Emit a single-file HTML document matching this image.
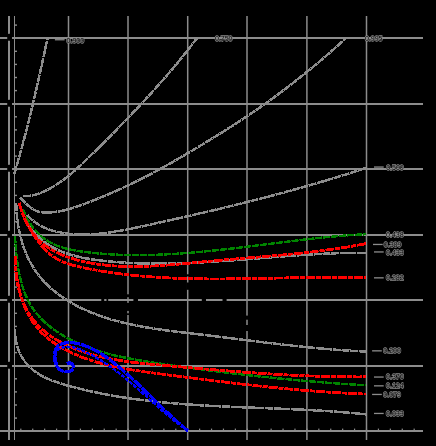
<!DOCTYPE html>
<html><head><meta charset="utf-8"><style>
html,body{margin:0;padding:0;background:#000;width:436px;height:446px;overflow:hidden}
svg{display:block}
.lb{font-family:"Liberation Sans",sans-serif;font-size:7.6px;fill:#000;stroke:#8c8c8c;stroke-width:1.3px;paint-order:stroke}
</style></head><body>
<svg width="436" height="446" viewBox="0 0 436 446">
<rect width="436" height="446" fill="#000"/>
<rect x="0" y="37" width="423" height="2" fill="#8c8c8c"/>
<rect x="0" y="103" width="423" height="2" fill="#8c8c8c"/>
<rect x="0" y="168" width="423" height="2" fill="#8c8c8c"/>
<rect x="0" y="234" width="423" height="2" fill="#8c8c8c"/>
<rect x="0" y="299" width="423" height="2" fill="#8c8c8c"/>
<rect x="0" y="365" width="423" height="2" fill="#8c8c8c"/>
<rect x="0" y="430" width="423" height="2" fill="#8c8c8c"/>
<line x1="68.50" y1="16" x2="68.50" y2="440" stroke="#8c8c8c" stroke-width="1.5"/>
<line x1="128.00" y1="16" x2="128.00" y2="440" stroke="#8c8c8c" stroke-width="1.5"/>
<line x1="187.70" y1="16" x2="187.70" y2="440" stroke="#8c8c8c" stroke-width="1.5"/>
<line x1="247.00" y1="16" x2="247.00" y2="440" stroke="#8c8c8c" stroke-width="1.5"/>
<line x1="306.90" y1="16" x2="306.90" y2="440" stroke="#8c8c8c" stroke-width="1.5"/>
<line x1="366.50" y1="16" x2="366.50" y2="440" stroke="#8c8c8c" stroke-width="1.5"/>
<rect x="8" y="16" width="2" height="424" fill="#8c8c8c"/>
<rect x="14" y="16" width="1" height="424" fill="#8c8c8c"/>
<rect x="15" y="430.50" width="2" height="1.4" fill="#8c8c8c"/>
<rect x="15" y="417.40" width="2" height="1.4" fill="#8c8c8c"/>
<rect x="15" y="404.30" width="2" height="1.4" fill="#8c8c8c"/>
<rect x="15" y="391.20" width="2" height="1.4" fill="#8c8c8c"/>
<rect x="15" y="378.10" width="2" height="1.4" fill="#8c8c8c"/>
<rect x="15" y="365.00" width="2" height="1.4" fill="#8c8c8c"/>
<rect x="15" y="351.90" width="2" height="1.4" fill="#8c8c8c"/>
<rect x="15" y="338.80" width="2" height="1.4" fill="#8c8c8c"/>
<rect x="15" y="325.70" width="2" height="1.4" fill="#8c8c8c"/>
<rect x="15" y="312.60" width="2" height="1.4" fill="#8c8c8c"/>
<rect x="15" y="299.50" width="2" height="1.4" fill="#8c8c8c"/>
<rect x="15" y="286.40" width="2" height="1.4" fill="#8c8c8c"/>
<rect x="15" y="273.30" width="2" height="1.4" fill="#8c8c8c"/>
<rect x="15" y="260.20" width="2" height="1.4" fill="#8c8c8c"/>
<rect x="15" y="247.10" width="2" height="1.4" fill="#8c8c8c"/>
<rect x="15" y="234.00" width="2" height="1.4" fill="#8c8c8c"/>
<rect x="15" y="220.90" width="2" height="1.4" fill="#8c8c8c"/>
<rect x="15" y="207.80" width="2" height="1.4" fill="#8c8c8c"/>
<rect x="15" y="194.70" width="2" height="1.4" fill="#8c8c8c"/>
<rect x="15" y="181.60" width="2" height="1.4" fill="#8c8c8c"/>
<rect x="15" y="168.50" width="2" height="1.4" fill="#8c8c8c"/>
<rect x="15" y="155.40" width="2" height="1.4" fill="#8c8c8c"/>
<rect x="15" y="142.30" width="2" height="1.4" fill="#8c8c8c"/>
<rect x="15" y="129.20" width="2" height="1.4" fill="#8c8c8c"/>
<rect x="15" y="116.10" width="2" height="1.4" fill="#8c8c8c"/>
<rect x="15" y="103.00" width="2" height="1.4" fill="#8c8c8c"/>
<rect x="15" y="89.90" width="2" height="1.4" fill="#8c8c8c"/>
<rect x="15" y="76.80" width="2" height="1.4" fill="#8c8c8c"/>
<rect x="15" y="63.70" width="2" height="1.4" fill="#8c8c8c"/>
<rect x="15" y="50.60" width="2" height="1.4" fill="#8c8c8c"/>
<rect x="15" y="37.50" width="2" height="1.4" fill="#8c8c8c"/>
<rect x="15" y="24.40" width="2" height="1.4" fill="#8c8c8c"/>
<rect x="8.30" y="428.6" width="1.2" height="1.4" fill="#8c8c8c"/>
<rect x="20.22" y="428.6" width="1.2" height="1.4" fill="#8c8c8c"/>
<rect x="32.14" y="428.6" width="1.2" height="1.4" fill="#8c8c8c"/>
<rect x="44.06" y="428.6" width="1.2" height="1.4" fill="#8c8c8c"/>
<rect x="55.98" y="428.6" width="1.2" height="1.4" fill="#8c8c8c"/>
<rect x="67.90" y="428.6" width="1.2" height="1.4" fill="#8c8c8c"/>
<rect x="79.82" y="428.6" width="1.2" height="1.4" fill="#8c8c8c"/>
<rect x="91.74" y="428.6" width="1.2" height="1.4" fill="#8c8c8c"/>
<rect x="103.66" y="428.6" width="1.2" height="1.4" fill="#8c8c8c"/>
<rect x="115.58" y="428.6" width="1.2" height="1.4" fill="#8c8c8c"/>
<rect x="127.50" y="428.6" width="1.2" height="1.4" fill="#8c8c8c"/>
<rect x="139.42" y="428.6" width="1.2" height="1.4" fill="#8c8c8c"/>
<rect x="151.34" y="428.6" width="1.2" height="1.4" fill="#8c8c8c"/>
<rect x="163.26" y="428.6" width="1.2" height="1.4" fill="#8c8c8c"/>
<rect x="175.18" y="428.6" width="1.2" height="1.4" fill="#8c8c8c"/>
<rect x="187.10" y="428.6" width="1.2" height="1.4" fill="#8c8c8c"/>
<rect x="199.02" y="428.6" width="1.2" height="1.4" fill="#8c8c8c"/>
<rect x="210.94" y="428.6" width="1.2" height="1.4" fill="#8c8c8c"/>
<rect x="222.86" y="428.6" width="1.2" height="1.4" fill="#8c8c8c"/>
<rect x="234.78" y="428.6" width="1.2" height="1.4" fill="#8c8c8c"/>
<rect x="246.70" y="428.6" width="1.2" height="1.4" fill="#8c8c8c"/>
<rect x="258.62" y="428.6" width="1.2" height="1.4" fill="#8c8c8c"/>
<rect x="270.54" y="428.6" width="1.2" height="1.4" fill="#8c8c8c"/>
<rect x="282.46" y="428.6" width="1.2" height="1.4" fill="#8c8c8c"/>
<rect x="294.38" y="428.6" width="1.2" height="1.4" fill="#8c8c8c"/>
<rect x="306.30" y="428.6" width="1.2" height="1.4" fill="#8c8c8c"/>
<rect x="318.22" y="428.6" width="1.2" height="1.4" fill="#8c8c8c"/>
<rect x="330.14" y="428.6" width="1.2" height="1.4" fill="#8c8c8c"/>
<rect x="342.06" y="428.6" width="1.2" height="1.4" fill="#8c8c8c"/>
<rect x="353.98" y="428.6" width="1.2" height="1.4" fill="#8c8c8c"/>
<rect x="365.90" y="428.6" width="1.2" height="1.4" fill="#8c8c8c"/>
<rect x="377.82" y="428.6" width="1.2" height="1.4" fill="#8c8c8c"/>
<rect x="389.74" y="428.6" width="1.2" height="1.4" fill="#8c8c8c"/>
<rect x="401.66" y="428.6" width="1.2" height="1.4" fill="#8c8c8c"/>
<rect x="413.58" y="428.6" width="1.2" height="1.4" fill="#8c8c8c"/>
<rect x="7.2" y="33.7" width="4.8" height="7" rx="1.5" fill="#000"/>
<rect x="7.2" y="99.7" width="4.8" height="7" rx="1.5" fill="#000"/>
<rect x="7.2" y="164.7" width="4.8" height="7" rx="1.5" fill="#000"/>
<rect x="7.2" y="230.7" width="4.8" height="7" rx="1.5" fill="#000"/>
<rect x="7.2" y="295.7" width="4.8" height="7" rx="1.5" fill="#000"/>
<rect x="7.2" y="361.7" width="4.8" height="7" rx="1.5" fill="#000"/>
<rect x="186.5" y="274.3" width="3.0" height="2.1" fill="#000"/>
<rect x="186.5" y="282.5" width="3.0" height="7.3" fill="#000"/>
<rect x="201.8" y="298.5" width="4.2" height="3.0" fill="#000"/>
<rect x="222.5" y="298.5" width="4.1" height="3.0" fill="#000"/>
<rect x="245.5" y="315.6" width="3.0" height="4.1" fill="#000"/>
<rect x="245.5" y="325.0" width="3.0" height="6.0" fill="#000"/>
<rect x="126.5" y="294.3" width="3.0" height="2.9" fill="#000"/>
<rect x="126.5" y="302.9" width="3.0" height="8.0" fill="#000"/>
<rect x="126.5" y="313.3" width="3.0" height="1.7" fill="#000"/>
<rect x="101.3" y="298.5" width="2.9" height="3.0" fill="#000"/>
<rect x="106.5" y="298.5" width="1.7" height="3.0" fill="#000"/>
<rect x="133.4" y="298.5" width="4.6" height="3.0" fill="#000"/>
<path d="M14.26 173.99 L14.85 172.02 L15.44 170.06 L16.02 168.09 L16.59 166.12 L17.16 164.15 L17.73 162.18 L18.29 160.21 L18.85 158.24 L19.41 156.27 L19.96 154.29 L20.51 152.31 L21.06 150.34 L21.60 148.36 L22.13 146.38 L22.67 144.40 L23.20 142.42 L23.73 140.44 L24.25 138.46 L24.77 136.47 L25.29 134.49 L25.80 132.50 L26.32 130.52 L26.82 128.53 L27.33 126.54 L27.83 124.55 L28.33 122.56 L28.83 120.57 L29.32 118.58 L29.81 116.59 L30.30 114.60 L30.79 112.61 L31.27 110.61 L31.75 108.62 L32.23 106.62 L32.71 104.63 L33.18 102.63 L33.65 100.64 L34.12 98.64 L34.59 96.65 L35.06 94.65 L35.52 92.65 L35.98 90.65 L36.44 88.65 L36.90 86.65 L37.35 84.65 L37.80 82.66 L38.26 80.66 L38.71 78.66 L39.15 76.65 L39.60 74.65 L40.05 72.65 L40.49 70.65 L40.93 68.65 L41.38 66.65 L41.82 64.65 L42.25 62.65 L42.69 60.65 L43.13 58.64 L43.56 56.64 L44.00 54.64 L44.43 52.64 L44.86 50.64 L45.30 48.63 L45.73 46.63 L46.16 44.63 L46.59 42.63 L47.02 40.63 L47.44 38.63" fill="none" stroke="#8c8c8c" stroke-width="2.50" stroke-dasharray="8 0.6" stroke-linejoin="round" shape-rendering="crispEdges"/>
<path d="M23.30 195.86 L25.41 195.97 L27.49 195.94 L29.53 195.79 L31.53 195.52 L33.50 195.14 L35.44 194.67 L37.35 194.10 L39.23 193.46 L41.08 192.75 L42.92 191.98 L44.73 191.16 L46.51 190.29 L48.28 189.39 L50.03 188.45 L51.76 187.48 L53.48 186.47 L55.17 185.43 L56.85 184.36 L58.51 183.26 L60.16 182.13 L61.79 180.97 L63.41 179.79 L65.02 178.58 L66.61 177.35 L68.19 176.09 L69.75 174.81 L71.31 173.52 L72.86 172.20 L74.39 170.87 L75.92 169.52 L77.43 168.16 L78.94 166.78 L80.44 165.40 L81.93 164.00 L83.42 162.59 L84.90 161.18 L86.37 159.75 L87.84 158.33 L89.31 156.89 L90.77 155.46 L92.23 154.02 L93.69 152.59 L95.14 151.15 L96.60 149.71 L98.05 148.28 L99.49 146.84 L100.94 145.40 L102.38 143.97 L103.82 142.53 L105.26 141.09 L106.70 139.66 L108.13 138.22 L109.56 136.78 L110.99 135.34 L112.42 133.90 L113.85 132.46 L115.27 131.02 L116.69 129.57 L118.10 128.13 L119.52 126.69 L120.93 125.24 L122.34 123.79 L123.75 122.34 L125.15 120.89 L126.55 119.44 L127.95 117.99 L129.35 116.53 L130.74 115.08 L132.14 113.62 L133.52 112.16 L134.91 110.70 L136.29 109.23 L137.68 107.77 L139.05 106.30 L140.43 104.83 L141.80 103.36 L143.17 101.88 L144.54 100.41 L145.90 98.93 L147.26 97.44 L148.62 95.96 L149.98 94.47 L151.33 92.98 L152.68 91.49 L154.03 89.99 L155.37 88.49 L156.72 86.99 L158.06 85.48 L159.39 83.97 L160.72 82.46 L162.05 80.94 L163.38 79.43 L164.70 77.90 L166.02 76.38 L167.34 74.85 L168.66 73.31 L169.97 71.77 L171.28 70.23 L172.58 68.69 L173.88 67.14 L175.18 65.58 L176.48 64.03 L177.77 62.46 L179.06 60.90 L180.35 59.33 L181.63 57.75 L182.91 56.17 L184.19 54.58 L185.46 52.99 L186.73 51.40 L188.00 49.80 L189.26 48.20 L190.52 46.59 L191.78 44.97 L193.03 43.35 L194.28 41.73 L195.53 40.10 L196.78 38.46" fill="none" stroke="#8c8c8c" stroke-width="2.50" stroke-dasharray="8 0.6" stroke-linejoin="round" shape-rendering="crispEdges"/>
<path d="M19.85 197.75 L21.35 198.98 L22.83 200.33 L24.30 201.74 L25.77 203.19 L27.25 204.63 L28.77 206.04 L30.32 207.37 L31.93 208.58 L33.60 209.65 L35.35 210.53 L37.18 211.22 L39.07 211.73 L41.02 212.09 L43.00 212.31 L45.00 212.43 L47.01 212.46 L49.02 212.42 L51.02 212.33 L53.02 212.17 L55.00 211.96 L56.98 211.70 L58.96 211.38 L60.93 211.02 L62.89 210.62 L64.85 210.17 L66.80 209.68 L68.74 209.16 L70.68 208.61 L72.61 208.02 L74.54 207.41 L76.46 206.77 L78.38 206.11 L80.30 205.43 L82.20 204.74 L84.11 204.03 L86.00 203.31 L87.90 202.58 L89.79 201.85 L91.67 201.11 L93.55 200.37 L95.43 199.62 L97.30 198.87 L99.17 198.11 L101.03 197.34 L102.89 196.57 L104.74 195.79 L106.60 195.01 L108.44 194.22 L110.29 193.43 L112.13 192.63 L113.96 191.82 L115.80 191.01 L117.63 190.19 L119.45 189.37 L121.28 188.54 L123.09 187.70 L124.91 186.86 L126.72 186.01 L128.53 185.16 L130.34 184.30 L132.14 183.43 L133.95 182.56 L135.74 181.68 L137.54 180.80 L139.33 179.90 L141.12 179.01 L142.91 178.10 L144.69 177.19 L146.48 176.27 L148.26 175.35 L150.04 174.42 L151.81 173.48 L153.58 172.54 L155.36 171.59 L157.12 170.64 L158.89 169.68 L160.66 168.72 L162.42 167.75 L164.18 166.77 L165.94 165.79 L167.69 164.81 L169.45 163.82 L171.20 162.83 L172.95 161.83 L174.70 160.83 L176.44 159.83 L178.19 158.82 L179.93 157.81 L181.67 156.80 L183.41 155.78 L185.15 154.76 L186.88 153.74 L188.61 152.71 L190.35 151.68 L192.08 150.65 L193.80 149.62 L195.53 148.58 L197.26 147.55 L198.98 146.51 L200.70 145.47 L202.42 144.43 L204.14 143.38 L205.86 142.34 L207.58 141.29 L209.29 140.24 L211.01 139.20 L212.72 138.15 L214.43 137.09 L216.14 136.04 L217.84 134.98 L219.55 133.92 L221.25 132.86 L222.95 131.80 L224.65 130.73 L226.35 129.66 L228.04 128.59 L229.73 127.51 L231.42 126.44 L233.11 125.35 L234.80 124.27 L236.48 123.18 L238.16 122.09 L239.84 120.99 L241.52 119.89 L243.19 118.79 L244.86 117.68 L246.53 116.57 L248.20 115.45 L249.86 114.33 L251.52 113.20 L253.18 112.07 L254.84 110.93 L256.49 109.79 L258.14 108.65 L259.79 107.50 L261.43 106.35 L263.08 105.19 L264.72 104.03 L266.35 102.86 L267.99 101.70 L269.62 100.52 L271.24 99.34 L272.87 98.16 L274.49 96.97 L276.11 95.78 L277.73 94.59 L279.34 93.39 L280.95 92.19 L282.56 90.98 L284.17 89.77 L285.77 88.55 L287.37 87.33 L288.97 86.11 L290.56 84.88 L292.15 83.65 L293.74 82.42 L295.32 81.18 L296.91 79.94 L298.49 78.69 L300.06 77.44 L301.63 76.19 L303.20 74.93 L304.77 73.67 L306.33 72.40 L307.90 71.13 L309.45 69.86 L311.01 68.58 L312.56 67.30 L314.11 66.02 L315.65 64.73 L317.19 63.44 L318.73 62.15 L320.27 60.85 L321.80 59.55 L323.33 58.24 L324.86 56.94 L326.38 55.62 L327.90 54.31 L329.42 52.99 L330.93 51.67 L332.44 50.34 L333.95 49.01 L335.45 47.68 L336.95 46.35 L338.45 45.01 L339.94 43.67 L341.43 42.32 L342.92 40.97 L344.40 39.62 L345.88 38.27" fill="none" stroke="#8c8c8c" stroke-width="2.50" stroke-dasharray="8 0.6" stroke-linejoin="round" shape-rendering="crispEdges"/>
<path d="M27.29 214.83 L28.70 216.48 L30.15 218.03 L31.66 219.48 L33.22 220.83 L34.82 222.10 L36.47 223.27 L38.15 224.37 L39.87 225.39 L41.63 226.33 L43.41 227.19 L45.23 228.00 L47.07 228.73 L48.93 229.41 L50.81 230.03 L52.71 230.60 L54.62 231.11 L56.54 231.59 L58.47 232.02 L60.40 232.41 L62.34 232.77 L64.28 233.09 L66.23 233.38 L68.18 233.63 L70.14 233.84 L72.10 234.03 L74.06 234.18 L76.03 234.30 L78.00 234.39 L79.97 234.46 L81.95 234.49 L83.93 234.49 L85.91 234.47 L87.90 234.43 L89.89 234.35 L91.88 234.26 L93.87 234.14 L95.87 233.99 L97.86 233.83 L99.86 233.64 L101.86 233.44 L103.87 233.21 L105.87 232.97 L107.88 232.71 L109.88 232.43 L111.89 232.14 L113.90 231.83 L115.91 231.50 L117.92 231.17 L119.93 230.82 L121.94 230.46 L123.95 230.09 L125.96 229.70 L127.97 229.31 L129.98 228.91 L131.99 228.51 L133.99 228.09 L136.00 227.67 L138.01 227.25 L140.01 226.82 L142.02 226.38 L144.02 225.95 L146.02 225.51 L148.02 225.07 L150.02 224.64 L152.02 224.20 L154.01 223.76 L156.01 223.32 L158.00 222.88 L159.99 222.44 L161.97 222.00 L163.96 221.56 L165.95 221.12 L167.93 220.68 L169.91 220.23 L171.89 219.79 L173.87 219.35 L175.85 218.90 L177.82 218.46 L179.80 218.01 L181.77 217.57 L183.74 217.12 L185.71 216.67 L187.68 216.22 L189.65 215.77 L191.61 215.32 L193.58 214.87 L195.54 214.42 L197.51 213.97 L199.47 213.51 L201.43 213.06 L203.39 212.60 L205.35 212.14 L207.30 211.68 L209.26 211.22 L211.21 210.76 L213.17 210.30 L215.12 209.84 L217.07 209.37 L219.02 208.91 L220.97 208.44 L222.92 207.97 L224.87 207.51 L226.82 207.03 L228.77 206.56 L230.71 206.09 L232.66 205.61 L234.60 205.14 L236.54 204.66 L238.49 204.18 L240.43 203.70 L242.37 203.22 L244.31 202.73 L246.25 202.25 L248.19 201.76 L250.13 201.27 L252.07 200.78 L254.01 200.29 L255.95 199.79 L257.88 199.30 L259.82 198.80 L261.76 198.30 L263.69 197.80 L265.63 197.29 L267.56 196.79 L269.50 196.28 L271.43 195.77 L273.37 195.26 L275.30 194.75 L277.23 194.23 L279.17 193.72 L281.10 193.20 L283.03 192.67 L284.97 192.15 L286.90 191.62 L288.83 191.10 L290.77 190.57 L292.70 190.03 L294.63 189.50 L296.56 188.96 L298.50 188.42 L300.43 187.88 L302.36 187.33 L304.29 186.79 L306.23 186.24 L308.16 185.68 L310.09 185.13 L312.03 184.57 L313.96 184.01 L315.90 183.45 L317.83 182.89 L319.76 182.32 L321.70 181.75 L323.63 181.18 L325.57 180.60 L327.51 180.02 L329.44 179.44 L331.38 178.86 L333.32 178.27 L335.25 177.68 L337.19 177.09 L339.13 176.49 L341.07 175.90 L343.01 175.29 L344.95 174.69 L346.89 174.08 L348.83 173.47 L350.78 172.86 L352.72 172.24 L354.66 171.62 L356.61 171.00 L358.55 170.37 L360.50 169.74 L362.44 169.11 L364.39 168.48 L366.34 167.84" fill="none" stroke="#8c8c8c" stroke-width="2.50" stroke-dasharray="8 0.6" stroke-linejoin="round" shape-rendering="crispEdges"/>
<path d="M16.22 203.24 L16.27 205.33 L16.35 207.43 L16.46 209.53 L16.59 211.63 L16.76 213.72 L16.95 215.81 L17.17 217.89 L17.41 219.97 L17.69 222.04 L18.00 224.10 L18.33 226.16 L18.69 228.21 L19.09 230.25 L19.51 232.27 L19.96 234.29 L20.44 236.30 L20.96 238.29 L21.50 240.27 L22.08 242.24 L22.68 244.19 L23.32 246.12 L23.99 248.04 L24.69 249.94 L25.42 251.83 L26.18 253.69 L26.98 255.53 L27.81 257.36 L28.67 259.16 L29.57 260.94 L30.49 262.70 L31.46 264.43 L32.45 266.14 L33.48 267.83 L34.54 269.49 L35.64 271.12 L36.77 272.72 L37.94 274.30 L39.14 275.85 L40.37 277.37 L41.64 278.87 L42.93 280.33 L44.26 281.78 L45.61 283.19 L47.00 284.58 L48.41 285.94 L49.85 287.28 L51.32 288.59 L52.81 289.88 L54.32 291.14 L55.86 292.38 L57.43 293.59 L59.02 294.77 L60.63 295.94 L62.26 297.08 L63.91 298.19 L65.58 299.28 L67.27 300.35 L68.97 301.40 L70.70 302.42 L72.44 303.42 L74.20 304.39 L75.97 305.35 L77.75 306.28 L79.55 307.19 L81.37 308.08 L83.19 308.95 L85.03 309.79 L86.88 310.62 L88.73 311.42 L90.60 312.20 L92.47 312.97 L94.35 313.71 L96.24 314.43 L98.13 315.14 L100.03 315.82 L101.94 316.49 L103.85 317.13 L105.77 317.76 L107.70 318.37 L109.63 318.97 L111.56 319.54 L113.50 320.11 L115.45 320.65 L117.40 321.18 L119.35 321.69 L121.31 322.19 L123.27 322.68 L125.24 323.15 L127.21 323.61 L129.19 324.05 L131.17 324.48 L133.15 324.90 L135.14 325.31 L137.13 325.70 L139.12 326.09 L141.12 326.46 L143.12 326.83 L145.12 327.18 L147.12 327.52 L149.13 327.86 L151.14 328.18 L153.15 328.50 L155.17 328.81 L157.18 329.11 L159.20 329.41 L161.22 329.69 L163.24 329.98 L165.26 330.25 L167.28 330.52 L169.30 330.79 L171.32 331.05 L173.35 331.30 L175.37 331.56 L177.40 331.80 L179.42 332.05 L181.45 332.29 L183.47 332.53 L185.50 332.77 L187.52 333.01 L189.55 333.24 L191.57 333.48 L193.59 333.71 L195.61 333.95 L197.63 334.18 L199.65 334.42 L201.66 334.66 L203.68 334.90 L205.69 335.14 L207.70 335.38 L209.72 335.62 L211.72 335.86 L213.73 336.11 L215.74 336.35 L217.74 336.60 L219.75 336.85 L221.75 337.09 L223.75 337.34 L225.75 337.59 L227.75 337.84 L229.75 338.09 L231.75 338.34 L233.75 338.59 L235.74 338.84 L237.74 339.09 L239.73 339.34 L241.73 339.59 L243.72 339.84 L245.72 340.09 L247.71 340.34 L249.70 340.59 L251.69 340.84 L253.68 341.08 L255.68 341.33 L257.67 341.58 L259.66 341.82 L261.65 342.07 L263.64 342.31 L265.63 342.55 L267.62 342.79 L269.61 343.03 L271.60 343.27 L273.59 343.51 L275.58 343.74 L277.57 343.98 L279.56 344.21 L281.56 344.44 L283.55 344.67 L285.54 344.90 L287.53 345.12 L289.53 345.34 L291.52 345.56 L293.52 345.78 L295.51 346.00 L297.51 346.21 L299.50 346.43 L301.50 346.63 L303.50 346.84 L305.50 347.04 L307.50 347.25 L309.50 347.44 L311.50 347.64 L313.51 347.83 L315.51 348.02 L317.52 348.21 L319.53 348.39 L321.54 348.57 L323.55 348.75 L325.56 348.92 L327.57 349.09 L329.58 349.25 L331.60 349.42 L333.62 349.57 L335.64 349.73 L337.66 349.88 L339.68 350.02 L341.70 350.17 L343.73 350.30 L345.76 350.44 L347.79 350.57 L349.82 350.69 L351.86 350.81 L353.89 350.93 L355.93 351.04 L357.97 351.15 L360.01 351.25 L362.06 351.35 L364.11 351.44 L366.16 351.52" fill="none" stroke="#8c8c8c" stroke-width="2.50" stroke-dasharray="8 0.6" stroke-linejoin="round" shape-rendering="crispEdges"/>
<path d="M14.96 328.92 L14.96 331.36 L15.05 333.74 L15.23 336.07 L15.50 338.34 L15.85 340.56 L16.29 342.72 L16.81 344.82 L17.40 346.87 L18.07 348.87 L18.82 350.81 L19.64 352.69 L20.52 354.52 L21.48 356.29 L22.50 358.00 L23.58 359.66 L24.72 361.27 L25.92 362.81 L27.18 364.30 L28.50 365.74 L29.87 367.12 L31.28 368.44 L32.75 369.71 L34.26 370.92 L35.81 372.08 L37.41 373.18 L39.05 374.22 L40.72 375.22 L42.43 376.17 L44.17 377.07 L45.94 377.93 L47.74 378.75 L49.56 379.53 L51.41 380.27 L53.28 380.99 L55.17 381.67 L57.08 382.33 L59.00 382.96 L60.93 383.57 L62.88 384.16 L64.83 384.73 L66.79 385.29 L68.75 385.83 L70.71 386.37 L72.67 386.90 L74.64 387.41 L76.60 387.92 L78.57 388.42 L80.54 388.91 L82.51 389.39 L84.48 389.86 L86.46 390.32 L88.43 390.77 L90.41 391.22 L92.38 391.65 L94.36 392.08 L96.34 392.50 L98.32 392.91 L100.30 393.31 L102.28 393.71 L104.27 394.09 L106.25 394.47 L108.24 394.84 L110.23 395.21 L112.21 395.56 L114.20 395.91 L116.19 396.25 L118.18 396.58 L120.18 396.91 L122.17 397.23 L124.16 397.54 L126.16 397.85 L128.16 398.15 L130.15 398.44 L132.15 398.73 L134.15 399.00 L136.15 399.28 L138.15 399.54 L140.15 399.80 L142.15 400.06 L144.16 400.31 L146.16 400.55 L148.17 400.79 L150.17 401.02 L152.18 401.24 L154.18 401.46 L156.19 401.68 L158.20 401.89 L160.21 402.09 L162.22 402.29 L164.23 402.49 L166.24 402.68 L168.25 402.86 L170.27 403.04 L172.28 403.22 L174.29 403.39 L176.31 403.56 L178.32 403.72 L180.34 403.88 L182.35 404.03 L184.37 404.18 L186.38 404.33 L188.40 404.47 L190.42 404.61 L192.44 404.75 L194.46 404.88 L196.47 405.01 L198.49 405.14 L200.51 405.26 L202.53 405.38 L204.55 405.50 L206.57 405.61 L208.60 405.72 L210.62 405.83 L212.64 405.94 L214.66 406.04 L216.68 406.14 L218.71 406.24 L220.73 406.34 L222.75 406.44 L224.77 406.53 L226.80 406.62 L228.82 406.71 L230.84 406.80 L232.87 406.89 L234.89 406.97 L236.91 407.06 L238.94 407.14 L240.96 407.22 L242.99 407.30 L245.01 407.38 L247.03 407.46 L249.06 407.54 L251.08 407.62 L253.11 407.69 L255.13 407.77 L257.15 407.85 L259.18 407.92 L261.20 408.00 L263.22 408.08 L265.25 408.15 L267.27 408.23 L269.29 408.31 L271.32 408.38 L273.34 408.46 L275.36 408.54 L277.38 408.62 L279.41 408.70 L281.43 408.78 L283.45 408.86 L285.47 408.95 L287.49 409.03 L289.51 409.12 L291.53 409.20 L293.55 409.29 L295.57 409.38 L297.59 409.47 L299.61 409.57 L301.63 409.66 L303.64 409.76 L305.66 409.86 L307.68 409.96 L309.69 410.07 L311.71 410.18 L313.73 410.28 L315.74 410.40 L317.76 410.51 L319.77 410.63 L321.78 410.75 L323.80 410.87 L325.81 411.00 L327.82 411.13 L329.83 411.26 L331.84 411.40 L333.85 411.54 L335.86 411.68 L337.87 411.83 L339.87 411.98 L341.88 412.14 L343.89 412.30 L345.89 412.46 L347.90 412.63 L349.90 412.80 L351.90 412.98 L353.90 413.16 L355.90 413.35 L357.90 413.54 L359.90 413.73 L361.90 413.93 L363.90 414.14 L365.90 414.35" fill="none" stroke="#8c8c8c" stroke-width="2.50" stroke-dasharray="8 0.6" stroke-linejoin="round" shape-rendering="crispEdges"/>
<path d="M25.96 222.00 L27.17 223.88 L28.41 225.70 L29.68 227.46 L30.99 229.15 L32.33 230.79 L33.70 232.36 L35.11 233.88 L36.54 235.34 L38.00 236.75 L39.50 238.10 L41.02 239.40 L42.56 240.65 L44.14 241.85 L45.74 243.00 L47.36 244.10 L49.01 245.15 L50.68 246.16 L52.37 247.13 L54.09 248.05 L55.83 248.93 L57.58 249.77 L59.36 250.57 L61.16 251.33 L62.97 252.05 L64.80 252.74 L66.65 253.40 L68.51 254.02 L70.38 254.61 L72.28 255.17 L74.18 255.69 L76.10 256.19 L78.03 256.67 L79.97 257.11 L81.92 257.53 L83.87 257.93 L85.84 258.31 L87.82 258.66 L89.80 258.99 L91.79 259.31 L93.78 259.61 L95.78 259.89 L97.79 260.15 L99.79 260.40 L101.80 260.64 L103.81 260.87 L105.82 261.09 L107.84 261.29 L109.85 261.49 L111.86 261.68 L113.87 261.86 L115.89 262.03 L117.90 262.19 L119.92 262.34 L121.93 262.48 L123.95 262.61 L125.97 262.74 L127.98 262.85 L130.00 262.96 L132.02 263.06 L134.03 263.15 L136.05 263.23 L138.07 263.31 L140.09 263.38 L142.11 263.44 L144.13 263.49 L146.15 263.54 L148.17 263.57 L150.19 263.60 L152.21 263.63 L154.23 263.65 L156.25 263.66 L158.27 263.66 L160.29 263.66 L162.32 263.65 L164.34 263.63 L166.36 263.61 L168.38 263.58 L170.41 263.55 L172.43 263.51 L174.45 263.47 L176.48 263.42 L178.50 263.36 L180.52 263.30 L182.55 263.24 L184.57 263.17 L186.59 263.09 L188.62 263.01 L190.64 262.93 L192.67 262.84 L194.69 262.75 L196.72 262.65 L198.74 262.55 L200.76 262.45 L202.79 262.34 L204.81 262.23 L206.84 262.11 L208.86 261.99 L210.89 261.87 L212.91 261.74 L214.93 261.62 L216.96 261.48 L218.98 261.35 L221.01 261.21 L223.03 261.07 L225.06 260.93 L227.08 260.79 L229.10 260.64 L231.13 260.50 L233.15 260.35 L235.17 260.19 L237.20 260.04 L239.22 259.89 L241.24 259.73 L243.26 259.57 L245.29 259.42 L247.31 259.26 L249.33 259.10 L251.35 258.94 L253.37 258.78 L255.40 258.61 L257.42 258.45 L259.44 258.29 L261.46 258.13 L263.48 257.97 L265.50 257.81 L267.52 257.64 L269.54 257.48 L271.56 257.32 L273.57 257.16 L275.59 257.00 L277.61 256.85 L279.63 256.69 L281.64 256.53 L283.66 256.38 L285.68 256.23 L287.69 256.08 L289.71 255.93 L291.72 255.78 L293.74 255.64 L295.75 255.49 L297.77 255.35 L299.78 255.21 L301.79 255.08 L303.80 254.94 L305.82 254.81 L307.83 254.68 L309.84 254.56 L311.85 254.44 L313.86 254.32 L315.86 254.21 L317.87 254.09 L319.88 253.99 L321.89 253.88 L323.89 253.78 L325.90 253.69 L327.91 253.59 L329.91 253.51 L331.91 253.42 L333.92 253.35 L335.92 253.27 L337.92 253.20 L339.92 253.14 L341.92 253.08 L343.92 253.03 L345.92 252.98 L347.92 252.93 L349.92 252.90 L351.91 252.87 L353.91 252.84 L355.91 252.82 L357.90 252.81 L359.89 252.80 L361.89 252.80 L363.88 252.80 L365.87 252.82" fill="none" stroke="#8c8c8c" stroke-width="2.50" stroke-dasharray="8 0.6" stroke-linejoin="round" shape-rendering="crispEdges"/>
<path d="M22.79 208.92 L23.57 210.96 L24.41 212.96 L25.30 214.92 L26.25 216.85 L27.24 218.74 L28.29 220.59 L29.39 222.39 L30.53 224.15 L31.72 225.86 L32.96 227.52 L34.25 229.13 L35.57 230.69 L36.94 232.19 L38.36 233.63 L39.81 235.02 L41.30 236.34 L42.83 237.60 L44.40 238.80 L46.01 239.92 L47.65 240.98 L49.32 241.98 L51.03 242.91 L52.77 243.79 L54.53 244.60 L56.32 245.36 L58.14 246.07 L59.98 246.73 L61.85 247.35 L63.73 247.92 L65.63 248.45 L67.55 248.93 L69.49 249.39 L71.44 249.81 L73.40 250.20 L75.38 250.56 L77.36 250.89 L79.35 251.20 L81.35 251.49 L83.35 251.76 L85.35 252.02 L87.36 252.26 L89.37 252.50 L91.37 252.72 L93.38 252.93 L95.38 253.13 L97.39 253.32 L99.40 253.50 L101.40 253.67 L103.41 253.83 L105.42 253.98 L107.42 254.12 L109.43 254.25 L111.44 254.37 L113.44 254.48 L115.45 254.58 L117.46 254.67 L119.47 254.75 L121.47 254.82 L123.48 254.89 L125.49 254.94 L127.50 254.99 L129.51 255.03 L131.51 255.06 L133.52 255.08 L135.53 255.09 L137.54 255.10 L139.55 255.09 L141.55 255.08 L143.56 255.06 L145.57 255.04 L147.58 255.00 L149.59 254.96 L151.60 254.92 L153.61 254.86 L155.61 254.80 L157.62 254.73 L159.63 254.65 L161.64 254.57 L163.65 254.48 L165.66 254.39 L167.67 254.29 L169.67 254.18 L171.68 254.07 L173.69 253.95 L175.70 253.82 L177.71 253.69 L179.72 253.56 L181.73 253.42 L183.74 253.27 L185.74 253.12 L187.75 252.96 L189.76 252.80 L191.77 252.63 L193.78 252.46 L195.79 252.29 L197.79 252.11 L199.80 251.93 L201.81 251.74 L203.82 251.55 L205.83 251.35 L207.84 251.15 L209.84 250.95 L211.85 250.74 L213.86 250.53 L215.87 250.32 L217.88 250.10 L219.88 249.88 L221.89 249.66 L223.90 249.44 L225.91 249.21 L227.91 248.98 L229.92 248.75 L231.93 248.51 L233.93 248.28 L235.94 248.04 L237.95 247.80 L239.95 247.56 L241.96 247.31 L243.97 247.07 L245.97 246.82 L247.98 246.57 L249.98 246.32 L251.99 246.07 L254.00 245.82 L256.00 245.57 L258.01 245.32 L260.01 245.06 L262.02 244.81 L264.02 244.56 L266.03 244.30 L268.03 244.05 L270.04 243.80 L272.04 243.54 L274.04 243.29 L276.05 243.04 L278.05 242.79 L280.05 242.53 L282.06 242.28 L284.06 242.03 L286.06 241.79 L288.07 241.54 L290.07 241.29 L292.07 241.05 L294.07 240.81 L296.07 240.57 L298.08 240.33 L300.08 240.09 L302.08 239.86 L304.08 239.62 L306.08 239.39 L308.08 239.16 L310.08 238.94 L312.08 238.72 L314.08 238.50 L316.08 238.28 L318.08 238.07 L320.08 237.86 L322.07 237.65 L324.07 237.44 L326.07 237.24 L328.07 237.05 L330.06 236.86 L332.06 236.67 L334.06 236.48 L336.06 236.30 L338.05 236.13 L340.05 235.95 L342.04 235.79 L344.04 235.62 L346.03 235.47 L348.03 235.31 L350.02 235.17 L352.02 235.02 L354.01 234.89 L356.00 234.76 L358.00 234.63 L359.99 234.51 L361.98 234.40 L363.97 234.29 L365.96 234.18" fill="none" stroke="#008400" stroke-width="2.40" stroke-dasharray="7 1" stroke-linejoin="round" shape-rendering="crispEdges"/>
<path d="M18.86 203.36 L19.55 205.27 L20.26 207.17 L20.97 209.05 L21.71 210.91 L22.46 212.76 L23.22 214.59 L24.01 216.41 L24.82 218.22 L25.65 220.01 L26.50 221.79 L27.38 223.57 L28.28 225.33 L29.21 227.09 L30.16 228.84 L31.15 230.58 L32.17 232.32 L33.22 234.05 L34.30 235.78 L35.42 237.50 L36.57 239.20 L37.76 240.89 L38.98 242.55 L40.24 244.18 L41.54 245.78 L42.87 247.33 L44.24 248.84 L45.65 250.30 L47.10 251.71 L48.59 253.05 L50.12 254.33 L51.69 255.53 L53.31 256.66 L54.96 257.72 L56.64 258.72 L58.37 259.65 L60.12 260.53 L61.90 261.35 L63.71 262.12 L65.55 262.83 L67.41 263.51 L69.29 264.14 L71.19 264.73 L73.11 265.28 L75.04 265.80 L76.99 266.30 L78.95 266.77 L80.92 267.21 L82.89 267.64 L84.87 268.05 L86.85 268.45 L88.84 268.83 L90.82 269.21 L92.80 269.58 L94.79 269.95 L96.78 270.30 L98.76 270.64 L100.75 270.98 L102.74 271.30 L104.73 271.62 L106.72 271.93 L108.71 272.23 L110.70 272.52 L112.69 272.81 L114.69 273.09 L116.68 273.36 L118.67 273.62 L120.67 273.87 L122.66 274.12 L124.66 274.35 L126.66 274.59 L128.66 274.81 L130.65 275.03 L132.65 275.24 L134.65 275.44 L136.65 275.63 L138.65 275.82 L140.65 276.00 L142.65 276.18 L144.66 276.35 L146.66 276.51 L148.66 276.67 L150.67 276.82 L152.67 276.96 L154.68 277.10 L156.68 277.23 L158.69 277.36 L160.69 277.48 L162.70 277.59 L164.71 277.70 L166.71 277.80 L168.72 277.90 L170.73 278.00 L172.74 278.08 L174.75 278.17 L176.76 278.25 L178.77 278.32 L180.78 278.39 L182.79 278.45 L184.80 278.51 L186.81 278.57 L188.82 278.62 L190.84 278.66 L192.85 278.71 L194.86 278.74 L196.87 278.78 L198.89 278.81 L200.90 278.84 L202.91 278.86 L204.93 278.88 L206.94 278.90 L208.96 278.91 L210.97 278.92 L212.99 278.92 L215.00 278.93 L217.02 278.93 L219.03 278.93 L221.05 278.92 L223.06 278.91 L225.08 278.90 L227.10 278.89 L229.11 278.88 L231.13 278.86 L233.15 278.84 L235.16 278.82 L237.18 278.79 L239.20 278.77 L241.21 278.74 L243.23 278.71 L245.25 278.68 L247.26 278.65 L249.28 278.62 L251.30 278.58 L253.31 278.55 L255.33 278.51 L257.35 278.48 L259.36 278.44 L261.38 278.40 L263.40 278.36 L265.42 278.32 L267.43 278.28 L269.45 278.24 L271.47 278.20 L273.48 278.15 L275.50 278.11 L277.51 278.07 L279.53 278.03 L281.55 277.99 L283.56 277.95 L285.58 277.91 L287.59 277.87 L289.61 277.83 L291.62 277.79 L293.64 277.75 L295.65 277.72 L297.67 277.68 L299.68 277.65 L301.70 277.61 L303.71 277.58 L305.72 277.55 L307.74 277.52 L309.75 277.49 L311.76 277.47 L313.78 277.44 L315.79 277.42 L317.80 277.40 L319.81 277.38 L321.82 277.37 L323.83 277.36 L325.84 277.34 L327.85 277.34 L329.86 277.33 L331.87 277.33 L333.88 277.33 L335.89 277.33 L337.90 277.34 L339.91 277.35 L341.91 277.36 L343.92 277.37 L345.93 277.39 L347.93 277.41 L349.94 277.44 L351.94 277.47 L353.95 277.50 L355.95 277.54 L357.96 277.58 L359.96 277.63 L361.96 277.68 L363.96 277.73 L365.97 277.79" fill="none" stroke="#ff0000" stroke-width="2.80" stroke-dasharray="9 1 5 1" stroke-linejoin="round" shape-rendering="crispEdges"/>
<path d="M19.24 202.73 L19.77 204.78 L20.33 206.82 L20.94 208.84 L21.58 210.86 L22.27 212.85 L23.00 214.83 L23.77 216.78 L24.59 218.71 L25.44 220.61 L26.34 222.48 L27.29 224.32 L28.27 226.12 L29.30 227.89 L30.37 229.61 L31.49 231.29 L32.66 232.92 L33.87 234.51 L35.12 236.04 L36.42 237.52 L37.76 238.94 L39.14 240.32 L40.57 241.65 L42.03 242.93 L43.53 244.17 L45.07 245.36 L46.64 246.50 L48.25 247.60 L49.89 248.66 L51.55 249.67 L53.25 250.64 L54.97 251.58 L56.72 252.47 L58.50 253.33 L60.30 254.15 L62.12 254.93 L63.96 255.68 L65.82 256.40 L67.70 257.08 L69.59 257.73 L71.50 258.35 L73.43 258.94 L75.36 259.50 L77.31 260.04 L79.26 260.54 L81.22 261.02 L83.19 261.48 L85.16 261.91 L87.14 262.32 L89.12 262.71 L91.10 263.08 L93.08 263.42 L95.07 263.75 L97.06 264.06 L99.05 264.34 L101.04 264.61 L103.03 264.85 L105.03 265.08 L107.03 265.29 L109.03 265.48 L111.03 265.66 L113.03 265.82 L115.04 265.96 L117.04 266.08 L119.05 266.19 L121.06 266.28 L123.07 266.36 L125.08 266.43 L127.09 266.48 L129.11 266.51 L131.12 266.54 L133.14 266.54 L135.15 266.54 L137.17 266.53 L139.19 266.50 L141.21 266.46 L143.23 266.41 L145.25 266.35 L147.28 266.28 L149.30 266.20 L151.32 266.11 L153.35 266.01 L155.37 265.90 L157.40 265.79 L159.42 265.66 L161.45 265.53 L163.47 265.39 L165.50 265.25 L167.53 265.10 L169.55 264.94 L171.58 264.78 L173.60 264.61 L175.63 264.44 L177.66 264.26 L179.68 264.08 L181.71 263.90 L183.73 263.71 L185.76 263.52 L187.78 263.33 L189.81 263.13 L191.83 262.94 L193.85 262.74 L195.87 262.55 L197.90 262.35 L199.92 262.15 L201.94 261.95 L203.95 261.76 L205.97 261.56 L207.99 261.37 L210.01 261.18 L212.02 260.99 L214.03 260.81 L216.05 260.62 L218.06 260.44 L220.07 260.26 L222.08 260.08 L224.09 259.91 L226.10 259.73 L228.10 259.56 L230.11 259.39 L232.11 259.22 L234.12 259.05 L236.12 258.88 L238.12 258.71 L240.13 258.55 L242.13 258.38 L244.13 258.22 L246.13 258.05 L248.13 257.89 L250.13 257.72 L252.13 257.55 L254.12 257.39 L256.12 257.22 L258.12 257.06 L260.11 256.89 L262.11 256.72 L264.11 256.55 L266.10 256.38 L268.10 256.21 L270.09 256.04 L272.09 255.86 L274.08 255.69 L276.07 255.51 L278.07 255.33 L280.06 255.15 L282.06 254.97 L284.05 254.78 L286.04 254.60 L288.04 254.41 L290.03 254.21 L292.02 254.02 L294.01 253.82 L296.01 253.62 L298.00 253.41 L300.00 253.20 L301.99 252.99 L303.98 252.78 L305.98 252.56 L307.97 252.33 L309.97 252.11 L311.96 251.88 L313.96 251.64 L315.95 251.40 L317.95 251.16 L319.94 250.91 L321.94 250.65 L323.94 250.40 L325.93 250.13 L327.93 249.86 L329.93 249.59 L331.93 249.31 L333.93 249.03 L335.93 248.73 L337.93 248.44 L339.93 248.14 L341.94 247.83 L343.94 247.51 L345.94 247.19 L347.95 246.86 L349.95 246.53 L351.96 246.19 L353.97 245.84 L355.98 245.48 L357.99 245.12 L360.00 244.75 L362.01 244.37 L364.02 243.99 L366.03 243.60" fill="none" stroke="#ff0000" stroke-width="2.80" stroke-dasharray="9 1 5 1" stroke-linejoin="round" shape-rendering="crispEdges"/>
<path d="M15.03 236.46 L15.14 238.39 L15.26 240.35 L15.39 242.32 L15.52 244.30 L15.67 246.30 L15.83 248.31 L16.00 250.33 L16.19 252.36 L16.39 254.40 L16.60 256.44 L16.84 258.49 L17.09 260.54 L17.36 262.59 L17.66 264.64 L17.97 266.69 L18.31 268.74 L18.67 270.78 L19.06 272.81 L19.48 274.84 L19.92 276.86 L20.39 278.87 L20.89 280.87 L21.42 282.85 L21.98 284.82 L22.58 286.77 L23.21 288.70 L23.87 290.62 L24.58 292.51 L25.32 294.38 L26.09 296.23 L26.91 298.05 L27.77 299.84 L28.68 301.61 L29.62 303.34 L30.61 305.05 L31.65 306.72 L32.72 308.36 L33.85 309.96 L35.01 311.54 L36.22 313.08 L37.47 314.59 L38.75 316.06 L40.07 317.51 L41.43 318.93 L42.82 320.31 L44.24 321.67 L45.70 323.00 L47.18 324.30 L48.70 325.56 L50.24 326.80 L51.81 328.02 L53.40 329.20 L55.02 330.35 L56.66 331.48 L58.32 332.59 L60.00 333.66 L61.70 334.71 L63.42 335.73 L65.15 336.73 L66.90 337.70 L68.65 338.65 L70.43 339.57 L72.21 340.47 L74.00 341.35 L75.81 342.20 L77.62 343.03 L79.45 343.84 L81.29 344.63 L83.13 345.39 L84.99 346.13 L86.86 346.86 L88.73 347.56 L90.61 348.25 L92.51 348.91 L94.41 349.56 L96.32 350.19 L98.23 350.80 L100.16 351.39 L102.09 351.97 L104.03 352.53 L105.97 353.08 L107.92 353.61 L109.88 354.12 L111.84 354.63 L113.81 355.11 L115.78 355.59 L117.76 356.05 L119.75 356.50 L121.73 356.94 L123.73 357.36 L125.72 357.78 L127.72 358.18 L129.73 358.57 L131.73 358.96 L133.74 359.33 L135.75 359.70 L137.77 360.06 L139.78 360.41 L141.80 360.75 L143.82 361.09 L145.84 361.42 L147.86 361.74 L149.88 362.06 L151.91 362.38 L153.93 362.69 L155.95 362.99 L157.97 363.29 L159.99 363.59 L162.01 363.89 L164.03 364.18 L166.05 364.47 L168.06 364.76 L170.08 365.05 L172.09 365.34 L174.10 365.62 L176.11 365.91 L178.12 366.19 L180.12 366.47 L182.13 366.75 L184.13 367.03 L186.13 367.31 L188.13 367.58 L190.13 367.86 L192.13 368.13 L194.13 368.40 L196.12 368.67 L198.12 368.94 L200.11 369.20 L202.11 369.47 L204.10 369.73 L206.09 369.99 L208.08 370.25 L210.07 370.51 L212.06 370.77 L214.04 371.02 L216.03 371.28 L218.02 371.53 L220.00 371.78 L221.99 372.03 L223.97 372.27 L225.96 372.52 L227.94 372.76 L229.93 373.01 L231.91 373.25 L233.89 373.49 L235.87 373.72 L237.86 373.96 L239.84 374.19 L241.82 374.42 L243.80 374.65 L245.78 374.88 L247.77 375.11 L249.75 375.33 L251.73 375.56 L253.71 375.78 L255.69 376.00 L257.68 376.22 L259.66 376.44 L261.64 376.65 L263.62 376.86 L265.61 377.07 L267.59 377.28 L269.57 377.49 L271.56 377.70 L273.54 377.90 L275.53 378.11 L277.52 378.31 L279.50 378.51 L281.49 378.70 L283.48 378.90 L285.47 379.09 L287.46 379.28 L289.45 379.47 L291.44 379.66 L293.43 379.85 L295.43 380.03 L297.42 380.21 L299.42 380.40 L301.41 380.57 L303.41 380.75 L305.41 380.93 L307.41 381.10 L309.41 381.27 L311.41 381.44 L313.42 381.61 L315.42 381.77 L317.43 381.94 L319.44 382.10 L321.45 382.26 L323.46 382.42 L325.47 382.57 L327.49 382.73 L329.50 382.88 L331.52 383.03 L333.54 383.18 L335.56 383.33 L337.58 383.47 L339.61 383.61 L341.64 383.75 L343.67 383.89 L345.70 384.03 L347.73 384.16 L349.77 384.30 L351.80 384.43 L353.84 384.55 L355.88 384.68 L357.93 384.81 L359.98 384.93 L362.02 385.05 L364.07 385.17 L366.13 385.28" fill="none" stroke="#008400" stroke-width="2.40" stroke-dasharray="7 1" stroke-linejoin="round" shape-rendering="crispEdges"/>
<path d="M15.30 255.95 L15.33 257.97 L15.39 260.00 L15.47 262.04 L15.58 264.09 L15.71 266.14 L15.87 268.20 L16.05 270.26 L16.26 272.31 L16.50 274.37 L16.77 276.43 L17.07 278.49 L17.39 280.54 L17.74 282.58 L18.13 284.62 L18.54 286.66 L18.99 288.68 L19.47 290.69 L19.97 292.69 L20.52 294.68 L21.09 296.66 L21.70 298.62 L22.34 300.56 L23.02 302.49 L23.73 304.40 L24.47 306.28 L25.26 308.15 L26.08 309.99 L26.93 311.81 L27.83 313.60 L28.76 315.37 L29.73 317.10 L30.74 318.81 L31.78 320.49 L32.87 322.14 L34.00 323.75 L35.17 325.33 L36.38 326.88 L37.64 328.39 L38.93 329.86 L40.26 331.30 L41.63 332.70 L43.04 334.06 L44.48 335.39 L45.96 336.69 L47.46 337.96 L49.00 339.19 L50.57 340.39 L52.16 341.56 L53.78 342.70 L55.42 343.81 L57.09 344.89 L58.78 345.95 L60.49 346.97 L62.21 347.96 L63.96 348.93 L65.71 349.87 L67.49 350.79 L69.27 351.68 L71.07 352.54 L72.88 353.38 L74.70 354.20 L76.53 354.99 L78.37 355.76 L80.22 356.51 L82.08 357.23 L83.96 357.94 L85.84 358.62 L87.73 359.28 L89.62 359.93 L91.53 360.55 L93.45 361.15 L95.37 361.74 L97.30 362.31 L99.24 362.86 L101.19 363.39 L103.14 363.91 L105.10 364.41 L107.06 364.90 L109.03 365.37 L111.01 365.83 L112.99 366.27 L114.98 366.70 L116.98 367.12 L118.97 367.52 L120.98 367.92 L122.98 368.30 L124.99 368.67 L127.01 369.03 L129.02 369.38 L131.04 369.72 L133.06 370.05 L135.09 370.38 L137.12 370.70 L139.14 371.01 L141.17 371.31 L143.21 371.60 L145.24 371.90 L147.27 372.18 L149.31 372.46 L151.34 372.74 L153.37 373.01 L155.41 373.28 L157.44 373.55 L159.47 373.81 L161.50 374.08 L163.53 374.34 L165.56 374.60 L167.58 374.86 L169.61 375.12 L171.63 375.38 L173.65 375.64 L175.66 375.90 L177.68 376.16 L179.69 376.42 L181.71 376.68 L183.72 376.93 L185.72 377.19 L187.73 377.45 L189.74 377.70 L191.74 377.96 L193.75 378.21 L195.75 378.47 L197.75 378.72 L199.75 378.97 L201.74 379.23 L203.74 379.48 L205.74 379.73 L207.73 379.98 L209.73 380.23 L211.72 380.47 L213.71 380.72 L215.70 380.96 L217.69 381.21 L219.68 381.45 L221.67 381.69 L223.66 381.93 L225.64 382.17 L227.63 382.41 L229.62 382.65 L231.60 382.89 L233.59 383.12 L235.57 383.35 L237.56 383.59 L239.54 383.82 L241.53 384.04 L243.51 384.27 L245.49 384.50 L247.48 384.72 L249.46 384.95 L251.44 385.17 L253.43 385.39 L255.41 385.60 L257.40 385.82 L259.38 386.03 L261.36 386.25 L263.35 386.46 L265.33 386.67 L267.32 386.87 L269.31 387.08 L271.29 387.28 L273.28 387.48 L275.27 387.68 L277.26 387.88 L279.24 388.08 L281.23 388.27 L283.23 388.46 L285.22 388.65 L287.21 388.84 L289.20 389.02 L291.20 389.20 L293.19 389.38 L295.19 389.56 L297.19 389.73 L299.19 389.91 L301.19 390.08 L303.19 390.24 L305.19 390.41 L307.19 390.57 L309.20 390.73 L311.21 390.89 L313.21 391.04 L315.22 391.20 L317.24 391.35 L319.25 391.49 L321.27 391.64 L323.28 391.78 L325.30 391.92 L327.32 392.05 L329.34 392.18 L331.37 392.31 L333.40 392.44 L335.42 392.57 L337.46 392.69 L339.49 392.80 L341.52 392.92 L343.56 393.03 L345.60 393.14 L347.64 393.24 L349.69 393.35 L351.73 393.44 L353.78 393.54 L355.84 393.63 L357.89 393.72 L359.95 393.81 L362.01 393.89 L364.07 393.97 L366.14 394.04" fill="none" stroke="#ff0000" stroke-width="2.80" stroke-dasharray="9 1 5 1" stroke-linejoin="round" shape-rendering="crispEdges"/>
<path d="M15.55 255.73 L15.46 257.84 L15.40 259.95 L15.38 262.05 L15.40 264.16 L15.46 266.26 L15.56 268.35 L15.69 270.44 L15.87 272.52 L16.08 274.60 L16.34 276.66 L16.63 278.72 L16.96 280.76 L17.33 282.79 L17.74 284.81 L18.19 286.82 L18.68 288.81 L19.21 290.79 L19.77 292.74 L20.38 294.68 L21.03 296.60 L21.71 298.50 L22.44 300.38 L23.20 302.24 L24.00 304.07 L24.85 305.88 L25.73 307.66 L26.65 309.42 L27.62 311.15 L28.62 312.85 L29.66 314.53 L30.75 316.17 L31.87 317.78 L33.03 319.35 L34.23 320.90 L35.48 322.41 L36.76 323.88 L38.08 325.32 L39.44 326.72 L40.84 328.08 L42.28 329.41 L43.75 330.70 L45.26 331.96 L46.80 333.19 L48.36 334.38 L49.96 335.54 L51.58 336.66 L53.23 337.75 L54.90 338.82 L56.60 339.85 L58.32 340.85 L60.05 341.82 L61.81 342.76 L63.58 343.68 L65.37 344.57 L67.17 345.43 L68.98 346.26 L70.80 347.07 L72.63 347.85 L74.48 348.60 L76.33 349.34 L78.19 350.04 L80.06 350.73 L81.95 351.39 L83.84 352.03 L85.73 352.65 L87.64 353.24 L89.56 353.82 L91.48 354.37 L93.41 354.91 L95.34 355.43 L97.29 355.92 L99.24 356.40 L101.20 356.87 L103.16 357.31 L105.13 357.74 L107.11 358.15 L109.09 358.55 L111.07 358.93 L113.06 359.30 L115.06 359.65 L117.06 359.99 L119.06 360.32 L121.07 360.64 L123.08 360.94 L125.10 361.23 L127.12 361.51 L129.14 361.79 L131.16 362.05 L133.19 362.30 L135.22 362.55 L137.25 362.78 L139.28 363.01 L141.31 363.23 L143.34 363.45 L145.38 363.66 L147.41 363.86 L149.45 364.06 L151.48 364.26 L153.52 364.45 L155.55 364.64 L157.59 364.83 L159.62 365.01 L161.65 365.19 L163.68 365.37 L165.71 365.55 L167.74 365.73 L169.76 365.91 L171.78 366.09 L173.80 366.27 L175.82 366.45 L177.84 366.63 L179.85 366.81 L181.86 366.99 L183.87 367.17 L185.88 367.34 L187.89 367.52 L189.90 367.70 L191.90 367.87 L193.91 368.05 L195.91 368.22 L197.91 368.39 L199.91 368.57 L201.91 368.74 L203.91 368.91 L205.90 369.08 L207.90 369.25 L209.89 369.42 L211.88 369.59 L213.88 369.76 L215.87 369.92 L217.86 370.09 L219.85 370.25 L221.84 370.41 L223.82 370.58 L225.81 370.74 L227.80 370.90 L229.78 371.05 L231.77 371.21 L233.76 371.37 L235.74 371.52 L237.72 371.67 L239.71 371.82 L241.69 371.97 L243.68 372.12 L245.66 372.27 L247.64 372.41 L249.63 372.56 L251.61 372.70 L253.59 372.84 L255.58 372.98 L257.56 373.11 L259.54 373.25 L261.53 373.38 L263.51 373.51 L265.49 373.64 L267.48 373.77 L269.46 373.89 L271.45 374.02 L273.44 374.14 L275.42 374.26 L277.41 374.37 L279.40 374.49 L281.38 374.60 L283.37 374.71 L285.36 374.82 L287.35 374.93 L289.35 375.03 L291.34 375.13 L293.33 375.23 L295.33 375.33 L297.32 375.42 L299.32 375.51 L301.32 375.60 L303.31 375.69 L305.31 375.77 L307.32 375.85 L309.32 375.93 L311.32 376.00 L313.33 376.08 L315.33 376.15 L317.34 376.21 L319.35 376.28 L321.37 376.34 L323.38 376.40 L325.39 376.45 L327.41 376.50 L329.43 376.55 L331.45 376.60 L333.47 376.64 L335.50 376.68 L337.52 376.72 L339.55 376.75 L341.58 376.78 L343.61 376.81 L345.65 376.83 L347.69 376.85 L349.73 376.87 L351.77 376.88 L353.81 376.89 L355.86 376.90 L357.91 376.90 L359.96 376.90 L362.01 376.89 L364.07 376.88 L366.13 376.87" fill="none" stroke="#ff0000" stroke-width="2.80" stroke-dasharray="9 1 5 1" stroke-linejoin="round" shape-rendering="crispEdges"/>
<path d="M57.23 365.80 L56.82 364.06 L56.33 362.01 L55.87 359.78 L55.55 357.49 L55.48 355.25 L55.79 353.17 L56.59 351.37 L57.92 349.93 L59.61 348.81 L61.47 347.97 L63.36 347.37 L65.28 347.00 L67.20 346.83 L69.14 346.85 L71.09 347.04 L73.04 347.38 L74.99 347.86 L76.94 348.45 L78.88 349.13 L80.81 349.90 L82.73 350.72 L84.64 351.59 L86.52 352.49 L88.39 353.41 L90.23 354.35 L92.06 355.32 L93.87 356.31 L95.67 357.31 L97.44 358.34 L99.21 359.39 L100.95 360.46 L102.68 361.55 L104.40 362.66 L106.10 363.78 L107.79 364.92 L109.46 366.08 L111.13 367.25 L112.78 368.44 L114.42 369.64 L116.05 370.85 L117.66 372.08 L119.27 373.32 L120.87 374.58 L122.46 375.84 L124.04 377.12 L125.62 378.40 L127.18 379.70 L128.74 381.00 L130.30 382.31 L131.84 383.63 L133.39 384.96 L134.92 386.29 L136.46 387.63 L137.99 388.97 L139.51 390.32 L141.04 391.67 L142.56 393.03 L144.08 394.38 L145.60 395.74 L147.12 397.10 L148.64 398.47 L150.15 399.83 L151.67 401.19 L153.20 402.55 L154.72 403.91 L156.24 405.27 L157.77 406.62 L159.30 407.97 L160.84 409.32 L162.38 410.66 L163.93 411.99 L165.48 413.32 L167.04 414.64 L168.60 415.96 L170.17 417.27 L171.75 418.57 L173.34 419.86 L174.93 421.14 L176.54 422.41 L178.15 423.67 L179.78 424.91 L181.41 426.15 L183.06 427.37 L184.72 428.58 L186.39 429.77 L188.07 430.95" fill="none" stroke="#0000ff" stroke-width="2.40" stroke-dasharray="4 1.2" stroke-linejoin="round" shape-rendering="crispEdges"/>
<path d="M66.57 363.38 L69.28 362.81 L71.36 363.36 L72.77 364.66 L73.47 366.34 L73.43 368.03 L72.64 369.45 L71.28 370.57 L69.50 371.35 L67.48 371.78 L65.37 371.83 L63.35 371.49 L61.52 370.75 L59.89 369.66 L58.47 368.28 L57.25 366.64 L56.24 364.79 L55.45 362.79 L54.88 360.68 L54.53 358.50 L54.41 356.31 L54.53 354.15 L54.88 352.07 L55.47 350.12 L56.30 348.34 L57.39 346.79 L58.73 345.50 L60.29 344.48 L62.05 343.71 L63.95 343.16 L65.96 342.81 L68.04 342.64 L70.14 342.62 L72.23 342.73 L74.30 342.95 L76.33 343.28 L78.34 343.69 L80.33 344.19 L82.28 344.76 L84.21 345.40 L86.10 346.09 L87.98 346.84 L89.82 347.64 L91.65 348.49 L93.44 349.38 L95.22 350.32 L96.98 351.30 L98.71 352.32 L100.43 353.38 L102.12 354.46 L103.80 355.58 L105.47 356.72 L107.11 357.89 L108.75 359.08 L110.37 360.28 L111.98 361.51 L113.57 362.74 L115.16 363.99 L116.73 365.25 L118.30 366.53 L119.85 367.81 L121.39 369.11 L122.93 370.42 L124.46 371.74 L125.98 373.06 L127.49 374.40 L128.99 375.75 L130.49 377.10 L131.98 378.47 L133.46 379.84 L134.94 381.21 L136.41 382.60 L137.88 383.98 L139.35 385.38 L140.81 386.78 L142.26 388.18 L143.72 389.59 L145.17 391.00 L146.62 392.41 L148.06 393.82 L149.51 395.24 L150.95 396.65 L152.40 398.07 L153.84 399.49 L155.29 400.91 L156.73 402.32 L158.18 403.74 L159.63 405.15 L161.08 406.56 L162.53 407.97 L163.99 409.38 L165.45 410.78 L166.91 412.17 L168.38 413.56 L169.85 414.95 L171.33 416.33 L172.81 417.70 L174.30 419.06 L175.79 420.42 L177.30 421.77 L178.81 423.11 L180.32 424.45 L181.85 425.77 L183.38 427.08 L184.92 428.38 L186.48 429.67 L188.04 430.95" fill="none" stroke="#0000ff" stroke-width="3.20" stroke-dasharray="10 0.8" stroke-linejoin="round" shape-rendering="crispEdges"/>
<g style="filter:grayscale(1)">
<rect x="54.9" y="39.1" width="9.7" height="1.3" fill="#8c8c8c"/>
<text x="66.6" y="42.5" class="lb" textLength="17.6" lengthAdjust="spacingAndGlyphs">0.900</text>
<text x="214.9" y="40.8" class="lb" textLength="17.6" lengthAdjust="spacingAndGlyphs">0.750</text>
<text x="364.9" y="40.6" class="lb" textLength="17.6" lengthAdjust="spacingAndGlyphs">0.995</text>
<rect x="374.0" y="166.4" width="9.7" height="1.3" fill="#8c8c8c"/>
<text x="386.2" y="169.6" class="lb" textLength="17.6" lengthAdjust="spacingAndGlyphs">0.500</text>
<text x="386.1" y="236.8" class="lb" textLength="17.6" lengthAdjust="spacingAndGlyphs">0.438</text>
<rect x="373.0" y="243.8" width="9.7" height="1.3" fill="#8c8c8c"/>
<text x="383.8" y="246.9" class="lb" textLength="17.6" lengthAdjust="spacingAndGlyphs">0.389</text>
<rect x="374.0" y="251.3" width="9.7" height="1.3" fill="#8c8c8c"/>
<text x="386.1" y="254.7" class="lb" textLength="17.6" lengthAdjust="spacingAndGlyphs">0.433</text>
<rect x="374.0" y="277.2" width="9.7" height="1.3" fill="#8c8c8c"/>
<text x="386.1" y="279.6" class="lb" textLength="17.6" lengthAdjust="spacingAndGlyphs">0.282</text>
<rect x="372.1" y="350.2" width="9.7" height="1.3" fill="#8c8c8c"/>
<text x="383.3" y="352.7" class="lb" textLength="17.6" lengthAdjust="spacingAndGlyphs">0.200</text>
<rect x="374.0" y="376.4" width="9.7" height="1.3" fill="#8c8c8c"/>
<text x="386.1" y="378.6" class="lb" textLength="17.6" lengthAdjust="spacingAndGlyphs">0.376</text>
<rect x="374.0" y="385.2" width="9.7" height="1.3" fill="#8c8c8c"/>
<text x="386.1" y="387.8" class="lb" textLength="17.6" lengthAdjust="spacingAndGlyphs">0.124</text>
<rect x="372.1" y="393.8" width="9.7" height="1.3" fill="#8c8c8c"/>
<text x="383.3" y="396.5" class="lb" textLength="17.6" lengthAdjust="spacingAndGlyphs">0.079</text>
<rect x="374.0" y="412.8" width="9.7" height="1.3" fill="#8c8c8c"/>
<text x="386.1" y="415.6" class="lb" textLength="17.6" lengthAdjust="spacingAndGlyphs">0.033</text>
</g>
</svg>
</body></html>
